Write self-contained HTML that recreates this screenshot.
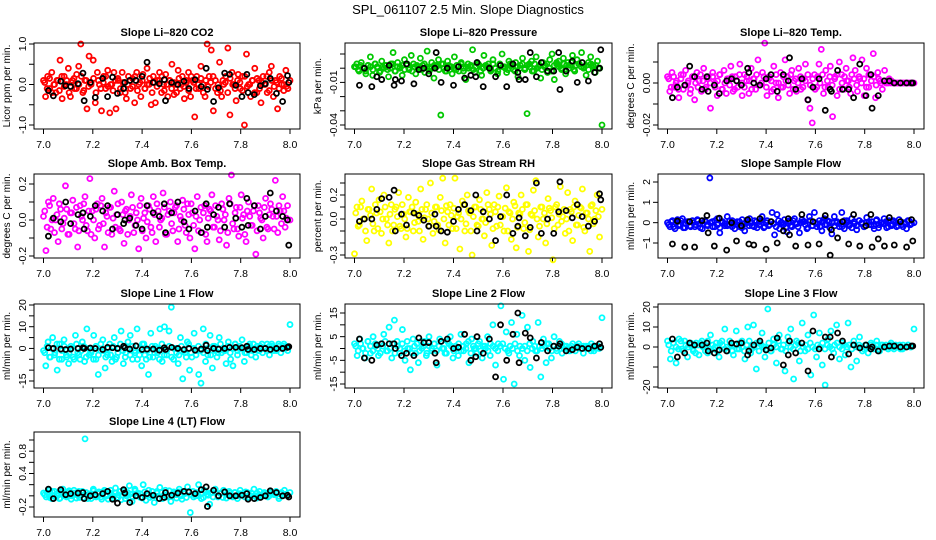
<!DOCTYPE html>
<html><head><meta charset="utf-8">
<style>
html,body{margin:0;padding:0;background:#fff;}
svg{display:block;font-family:"Liberation Sans",sans-serif;}
</style></head>
<body>
<svg id="chart" width="936" height="540" viewBox="0 0 936 540">
<rect width="936" height="540" fill="#fff"/>
<text x="468" y="14" text-anchor="middle" font-size="13">SPL_061107  2.5 Min. Slope Diagnostics</text>
</svg>
<script>
// ---- shared data ----
const xTicks = [7.0, 7.2, 7.4, 7.6, 7.8, 8.0];
const xTickLabels = ["7.0", "7.2", "7.4", "7.6", "7.8", "8.0"];
const blackX = [7.02,7.04,7.07,7.09,7.11,7.14,7.16,7.165,7.19,7.21,7.24,7.26,7.28,7.30,7.325,7.33,7.35,7.375,7.40,7.42,7.445,7.47,7.49,7.495,7.52,7.545,7.57,7.59,7.615,7.64,7.66,7.665,7.69,7.71,7.735,7.755,7.78,7.805,7.825,7.83,7.855,7.88,7.90,7.92,7.945,7.97,7.99,7.995];

// ---- panel 1: CO2 ----
const co2Values = [0.1,-0.3,0.2,-0.1,0.3,0.0,-0.2,0.1,0.6,-0.35,0.2,0.0,0.4,-0.3,0.1,-0.1,0.25,0.45,1.0,-0.2,0.1,-0.6,0.7,0.05,0.6,-0.45,0.3,0.0,-0.65,0.2,-0.1,0.35,-0.7,0.0,0.3,-0.6,0.1,-0.2,0.3,0.05,-0.35,0.2,-0.1,0.15,-0.45,0.3,0.0,-0.3,0.25,-0.1,0.4,0.0,-0.5,0.2,-0.45,0.1,0.3,-0.2,0.0,0.25,-0.3,0.1,0.5,-0.25,0.0,0.35,-0.1,0.2,-0.35,0.05,0.3,-0.3,0.1,-0.8,0.2,-0.1,0.45,0.0,-0.3,1.0,0.2,0.85,-0.65,0.1,-0.2,0.55,-0.3,0.0,0.2,0.9,-0.75,0.3,0.0,-0.4,0.25,-0.1,0.2,-1.0,0.75,0.0,-0.3,0.1,0.4,-0.2,0.1,-0.45,0.2,0.0,-0.2,0.3,0.45,-0.3,0.1,-0.6,0.2,0.0,-0.15,0.35,-0.1,0.1];
const co2Band = [0.05,-0.1,0.15,-0.2,0.0,0.1,-0.15,0.2,-0.05,0.1,-0.2,0.05,0.15,-0.1,0.0,0.2,-0.15,0.1,-0.05,0.0,0.15,-0.2,0.1,-0.1,0.05,0.2,-0.05,0.0,-0.15,0.1,0.15,-0.1,0.05,-0.2,0.0,0.1,-0.05,0.2,-0.15,0.05,0.1,-0.1,0.0,0.15,-0.2,0.05,-0.05,0.1,0.2,-0.15,0.0,0.1,-0.1,0.05,-0.2,0.15,0.0,-0.05,0.1,-0.15,0.2,0.05,-0.1,0.0,0.15,-0.2,0.1,-0.05,0.05,0.2,-0.1,0.0,-0.15,0.1,0.05,-0.2,0.15,0.0,-0.1,0.1,0.05,-0.15,0.2,-0.05,0.0,0.1,-0.2,0.15,-0.1,0.05,0.0,0.2,-0.15,0.1,-0.05,0.05,-0.1,0.15,0.0,-0.05];
const co2Black = [-0.15,-0.28,0.08,-0.03,-0.05,0.02,0.28,-0.4,0.05,-0.32,0.15,-0.3,0.18,-0.22,-0.1,0.05,0.1,0.1,0.2,0.55,0.05,0.02,0.12,-0.4,0.05,0.0,0.08,-0.1,0.12,-0.05,0.4,-0.12,-0.42,-0.08,0.28,0.25,-0.02,-0.3,0.25,-0.2,-0.25,-0.03,0.02,0.15,-0.22,-0.42,0.22,0.05];
const co2Ticks = [-1,-0.5,0,0.5,1];
const co2Labels = ["-1.0","","0.0","","1.0"];

// ---- panel 2: pressure ----
const presValues = [0.001,0.003,-0.002,0.004,0.0,-0.004,0.002,0.008,-0.005,0.003,0.001,-0.003,0.005,0.0,0.002,-0.006,0.003,0.011,-0.002,0.004,0.001,-0.005,0.006,0.002,-0.001,0.009,0.003,-0.004,0.001,0.007,0.002,-0.003,0.012,0.0,0.004,-0.007,0.002,0.006,-0.033,0.003,-0.002,0.005,0.001,-0.004,0.008,0.002,-0.002,0.004,0.0,-0.008,0.003,0.001,0.013,-0.003,0.004,0.002,-0.005,0.009,0.001,0.003,-0.002,0.006,0.0,-0.004,0.003,0.010,0.001,-0.003,0.005,0.002,-0.001,0.004,-0.006,0.002,0.007,0.0,-0.032,0.003,0.005,-0.002,0.008,0.001,-0.007,0.004,0.002,-0.003,0.006,0.010,-0.008,0.003,0.005,0.0,0.007,-0.004,0.004,0.002,0.009,-0.002,0.006,0.003,0.011,0.001,-0.005,0.004,0.008,0.002,-0.003,0.005,0.0,-0.040];
const presBand = [0.001,-0.001,0.002,0.0,-0.002,0.002,0.001,-0.001,0.003,0.0,-0.002,0.001,0.002,-0.001,0.0,0.003,-0.002,0.001,0.0,0.002,-0.001,0.003,0.0,-0.002,0.001,0.002,0.0,-0.001,0.003,0.001,-0.002,0.0,0.002,0.001,-0.001,0.003,0.0,-0.002,0.002,0.001,0.0,-0.001,0.002,0.003,-0.002,0.001,0.0,0.002,-0.001,0.001,0.003,-0.002,0.0,0.002,0.001,-0.001,0.003,0.0,-0.002,0.002,0.001,0.0,-0.001,0.003,0.002,-0.002,0.001,0.0,0.003,-0.001,0.002,0.001,-0.002,0.003,0.0,0.002,-0.001,0.001,0.003,0.0,-0.002,0.002,0.004,0.001,-0.001,0.003,0.002,0.0,0.004,-0.001,0.002,0.003,0.001,0.0,0.002,-0.001,0.003,0.001,0.002,0.0];
const presBlack = [-0.012,0.000,-0.013,-0.006,-0.008,0.002,-0.012,-0.008,-0.009,0.003,-0.011,-0.001,0.0,-0.004,0.0,0.011,-0.010,0.000,-0.012,0.001,-0.007,-0.005,-0.006,0.004,-0.013,0.000,-0.006,0.002,-0.013,0.003,-0.003,-0.008,-0.008,0.011,-0.006,0.004,-0.002,-0.002,0.011,-0.015,-0.002,0.005,-0.01,0.004,-0.009,-0.003,0.0,0.013];
const presTicks = [0.01,0,-0.01,-0.02,-0.03,-0.04];
const presLabels = ["","","-0.01","","","-0.04"];

// ---- panel 3: Li-820 temp ----
const tempValues = [0.003,-0.004,0.005,-0.002,0.001,-0.007,0.004,-0.003,0.006,0.0,-0.005,0.003,-0.008,0.005,0.001,-0.004,0.007,-0.002,0.003,-0.012,0.005,0.0,-0.006,0.004,-0.003,0.006,-0.005,0.002,0.008,-0.004,0.003,-0.002,0.009,-0.006,0.004,0.001,-0.005,0.007,0.002,-0.003,0.011,-0.001,0.005,0.019,-0.006,0.003,-0.004,0.008,0.0,-0.007,0.005,-0.002,0.011,0.003,-0.005,0.006,0.001,-0.004,0.007,-0.003,0.002,0.009,-0.008,-0.012,-0.019,0.004,-0.002,0.009,0.016,-0.005,0.006,-0.002,0.008,-0.016,0.003,-0.006,0.01,0.004,-0.003,0.007,0.001,-0.005,0.012,0.006,-0.004,0.002,0.011,-0.006,0.007,-0.002,0.004,0.014,-0.007,0.005,0.001,-0.003,0.006,0.0,0.002,0.001,0.0,0.0,0.0,0.0,0.0,0.0,0.0,0.0,0.0,0.0];
const tempBand = [0.002,-0.002,0.003,0.0,-0.003,0.002,0.004,-0.001,0.001,-0.003,0.003,0.0,-0.002,0.004,0.001,-0.003,0.002,0.0,0.003,-0.002,0.001,0.004,-0.003,0.0,0.002,-0.001,0.003,-0.003,0.001,0.004,0.0,-0.002,0.003,0.001,-0.003,0.002,0.004,-0.001,0.0,0.003,-0.002,0.002,0.001,-0.003,0.004,0.0,-0.002,0.003,0.001,-0.001,0.004,-0.003,0.002,0.0,0.003,-0.002,0.001,0.004,-0.001,0.002,-0.003,0.003,0.0,0.004,-0.002,0.001,0.003,-0.001,0.002,0.004,-0.003,0.0,0.003,0.001,-0.002,0.004,0.002,-0.001,0.003,0.0,0.002,-0.002,0.004,0.001,0.003,-0.001,0.002,0.0,0.001,0.0,0.0,0.0,0.0,0.0,0.0,0.0,0.0,0.0,0.0,0.0];
const tempBlack = [-0.007,-0.002,-0.001,0.008,0.003,-0.003,0.003,-0.004,-0.001,-0.005,0.001,0.002,0.001,-0.001,0.007,0.005,0.0,-0.001,0.002,0.004,-0.004,0.004,0.001,0.012,-0.003,0.002,-0.008,-0.002,0.002,-0.013,-0.003,-0.004,0.006,-0.003,-0.003,-0.007,0.009,-0.006,0.004,-0.012,-0.006,0.001,0.001,0.0,0.0,0.0,0.0,0.0];
const tempTicks = [0.01,0,-0.01,-0.02];
const tempLabels = ["","0.00","","-0.02"];

// ---- panel 4: amb box temp ----
const ambValues = [0.02,-0.17,0.1,-0.05,0.12,0.0,-0.12,0.06,-0.02,0.19,-0.08,0.04,0.11,-0.05,-0.15,0.08,0.0,0.13,-0.06,0.23,0.05,-0.1,0.09,-0.03,0.12,-0.15,0.02,0.07,-0.08,0.16,0.03,-0.05,0.1,-0.13,0.06,0.0,0.14,-0.07,0.04,-0.16,0.12,0.01,-0.1,0.08,-0.04,0.13,-0.12,0.05,0.0,0.15,-0.08,0.03,0.1,-0.06,0.07,-0.12,0.02,0.11,-0.03,0.09,-0.1,0.04,-0.16,0.13,0.0,-0.07,0.08,-0.12,0.06,0.14,-0.04,0.02,-0.11,0.09,0.0,-0.14,0.12,0.25,-0.05,0.07,-0.09,0.14,0.03,-0.12,0.1,-0.03,0.05,-0.19,0.08,0.01,-0.1,0.12,-0.05,0.09,0.02,0.22,-0.07,0.05,0.13,-0.04,0.08,0.0];
const ambBand = [0.05,-0.04,0.08,0.0,-0.07,0.03,0.09,-0.05,0.01,0.06,-0.08,0.04,-0.02,0.07,-0.06,0.02,0.09,-0.03,0.05,-0.08,0.0,0.06,-0.05,0.08,-0.02,0.04,-0.07,0.07,0.01,-0.04,0.09,-0.06,0.03,0.05,-0.08,0.02,0.07,-0.03,0.0,0.08,-0.06,0.04,-0.01,0.06,-0.07,0.03,0.09,-0.04,0.01,0.07,-0.08,0.05,-0.02,0.04,0.08,-0.05,0.0,0.06,-0.07,0.03,0.09,-0.03,0.02,-0.06,0.07,0.04,-0.08,0.01,0.05,-0.04,0.08,0.0,-0.06,0.06,0.03,-0.07,0.09,-0.02,0.04,-0.05,0.07,0.01,-0.08,0.05,0.02,-0.03,0.08,-0.06,0.04,0.0,0.07,-0.04,0.03,0.06,-0.05,0.02,0.08,-0.02,0.05,0.01];
const ambBlack = [-0.09,0.01,-0.01,0.1,-0.02,0.03,0.04,-0.05,0.02,0.08,0.05,0.08,-0.05,0.03,-0.02,0.0,0.01,-0.03,-0.05,0.08,0.04,0.02,0.09,-0.07,0.04,0.1,-0.01,-0.05,0.05,-0.07,0.09,-0.04,0.03,0.07,-0.04,0.09,0.01,-0.04,0.12,-0.03,0.08,-0.05,0.02,0.15,0.05,0.02,0.0,-0.14];
const ambTicks = [0.2,0.1,0,-0.1,-0.2];
const ambLabels = ["0.2","","0.0","","-0.2"];

// ---- panel 5: gas stream RH ----
const rhValues = [-0.29,0.1,-0.05,0.15,0.0,-0.18,0.08,0.25,-0.1,0.05,0.16,-0.12,0.2,0.0,-0.2,0.12,-0.05,0.1,0.22,-0.08,0.04,-0.15,0.18,0.06,-0.1,0.14,-0.02,0.25,-0.17,0.08,0.0,0.3,-0.12,0.1,-0.05,0.18,0.34,-0.2,0.06,0.12,-0.08,0.34,0.02,-0.25,0.15,-0.1,0.2,0.05,-0.3,0.1,-0.05,0.16,0.0,-0.14,0.22,0.08,-0.22,0.12,-0.06,0.19,0.02,-0.1,0.26,0.06,-0.17,0.14,-0.24,0.05,0.2,-0.08,0.12,-0.27,0.04,0.24,0.32,-0.15,0.1,0.0,-0.2,0.17,0.07,-0.34,0.1,-0.05,0.27,0.02,-0.12,0.22,0.08,-0.18,0.15,-0.05,0.1,0.25,-0.1,0.05,-0.27,0.12,0.0,0.2,-0.15,0.08];
const rhBand = [0.05,-0.06,0.1,0.0,-0.1,0.08,0.03,-0.04,0.12,-0.08,0.06,0.0,0.1,-0.05,0.04,-0.1,0.08,0.02,-0.06,0.12,0.0,-0.08,0.06,0.1,-0.03,0.04,-0.1,0.08,0.01,0.12,-0.06,0.05,-0.02,0.1,-0.09,0.07,0.0,0.11,-0.05,0.03,0.09,-0.08,0.05,0.0,0.12,-0.04,0.07,-0.1,0.02,0.1,-0.06,0.08,0.0,-0.03,0.12,0.04,-0.08,0.06,0.1,-0.05,0.02,0.09,-0.1,0.05,0.0,0.11,-0.07,0.04,0.08,-0.03,0.12,-0.09,0.03,0.07,0.0,-0.06,0.1,0.05,-0.04,0.09,0.01,-0.08,0.12,0.04,-0.02,0.08,0.0,-0.1,0.06,0.1,-0.05,0.03,0.09,-0.07,0.05,0.0,0.11,-0.04,0.07,0.02];
const rhBlack = [-0.02,0.0,0.0,0.08,0.17,0.18,0.24,-0.1,0.04,-0.05,0.05,0.03,-0.01,-0.06,0.04,-0.06,-0.1,-0.11,-0.02,0.08,0.12,0.07,0.2,-0.1,0.06,0.0,-0.18,0.02,0.2,-0.12,-0.06,0.01,-0.14,-0.07,0.3,-0.12,0.0,-0.12,0.06,0.31,0.07,0.01,0.12,0.02,-0.06,-0.02,0.21,0.16];
const rhTicks = [0.3,0.2,0.1,0,-0.1,-0.2,-0.3];
const rhLabels = ["","0.2","","0.0","","","-0.3"];

// ---- panel 6: sample flow ----
const sampleValues = [0.0,-0.2,0.1,-0.3,0.15,-0.1,0.2,-0.25,0.05,-0.15,0.1,-0.2,0.15,-0.05,-0.3,0.1,-0.1,2.2,0.05,-0.2,0.2,-0.5,0.0,-0.15,0.3,-0.1,0.1,-0.3,0.05,-0.2,0.15,-0.4,0.0,0.2,-0.15,0.1,-0.25,0.05,0.3,-0.2,0.1,-0.1,0.5,-0.6,0.4,-0.3,0.0,0.15,-0.45,0.1,-0.2,0.2,-0.05,-0.5,0.15,0.05,-0.3,0.3,-0.15,0.5,-0.2,0.1,-0.4,0.2,-0.1,0.05,-0.55,0.3,0.0,-0.2,0.5,-0.3,0.1,-0.15,0.2,-0.05,-0.35,0.1,0.0,-0.2,0.25,-0.1,0.05,-0.3,0.15,-0.1,0.0,0.2,-0.25,0.1,-0.15,0.05,-0.2,0.15,-0.1,0.0,-0.3,0.1,-0.05,0.0];
const sampleBand = [-0.1,0.05,-0.2,0.0,-0.15,0.1,-0.25,-0.05,0.05,-0.2,0.0,-0.1,0.1,-0.25,-0.05,0.05,-0.15,0.0,-0.2,0.1,-0.1,-0.25,0.05,-0.05,-0.15,0.1,-0.2,0.0,-0.1,0.05,-0.25,-0.05,0.1,-0.15,0.0,-0.2,0.05,-0.1,0.1,-0.25,0.0,-0.15,0.05,-0.05,-0.2,0.1,0.0,-0.1,-0.25,0.05,-0.15,0.1,-0.05,-0.2,0.0,0.05,-0.1,-0.25,0.1,-0.15,0.0,-0.05,-0.2,0.05,-0.1,0.1,-0.25,0.0,-0.15,0.05,-0.05,-0.2,0.1,0.0,-0.1,-0.25,0.05,-0.15,0.1,-0.05,-0.2,0.0,0.05,-0.1,-0.15,0.1,-0.25,0.0,-0.05,0.05,-0.2,-0.1,0.1,0.0,-0.15,0.05,-0.2,-0.05,0.1,-0.1];
const sampleBlack = [-1.05,0.08,-1.2,0.05,-1.2,0.1,0.35,-0.5,-1.15,0.22,-1.35,0.0,-0.9,-0.15,0.15,-1.05,-1.1,0.2,-1.3,0.05,-1.0,-0.4,0.2,-0.6,-1.15,0.4,-1.1,0.05,-1.05,0.35,-1.6,-0.35,-0.75,0.05,-1.05,0.4,-1.15,-0.15,0.4,-1.2,-0.8,-1.15,0.25,-1.1,0.05,-1.2,0.15,-0.9];
const sampleTicks = [2,1,0,-1];
const sampleLabels = ["2","1","0","\u22121"];

// ---- panel 7: line 1 flow ----
const line1Values = [-1,-8,3,-4,5,-2,-10,2,-5,4,-3,-7,1,-4,6,-2,-5,3,-6,9,-3,-1,6,-5,-12,-1,4,-9,-3,2,-6,5,-4,0,8,-7,-2,3,6,-5,-1,9,-3,-8,2,-5,-12,7,-4,1,-2,9,-6,10,-3,8,19,-5,0,-7,5,-14,-2,3,-10,-4,7,-1,-12,-16,9,-6,-3,6,-9,1,-4,5,-2,-1,-7,3,-5,-8,2,-3,0,4,-6,-2,1,-3,2,-4,-1,1,-2,0,2,-3,1,-1,0,2,-2,1,0,-1,11];
const line1Band = [-2,1,-4,0,-3,2,-5,-1,1,-4,-2,0,-5,2,-3,-1,1,-4,0,-2,-5,1,-3,2,-1,-4,0,-3,1,-5,-2,2,-1,-4,0,-3,1,-2,-5,0,2,-3,-1,-4,1,-2,0,-5,2,-3,-1,1,-4,0,-2,-3,1,-1,-4,2,-2,0,-3,1,-1,-2,2,0,-3,1,-1,-2,2,0,-1,1,-2,0,2,-1,1,0,-2,1,2,-1,0,1,-1,2,0,-1,1,2,0,-1,1,0,2,1];
const line1Black = [0.3,0.0,-0.3,-0.5,-0.3,0.0,0.3,0.0,0.2,0.0,-0.5,0.5,0.3,0.0,1.0,0.3,-0.3,1.2,-0.5,-0.3,-0.3,-0.8,0.3,-0.5,0.5,0.0,-0.5,0.0,-0.8,-0.3,1.5,-1.0,0.0,-0.3,0.0,0.5,0.5,0.3,1.0,-0.5,-0.5,0.0,0.0,-0.5,0.0,0.0,0.5,0.8];
const line1Ticks = [20,15,10,5,0,-5,-10,-15];
const line1Labels = ["20","","10","","0","","","-15"];

// ---- panel 8: line 2 flow ----
const line2Values = [2,-3,4,0,-4,3,-2,5,1,-3,2,6,-1,9,-4,12,3,-2,8,-5,0,-9,4,-2,-6,3,1,-3,5,-1,2,-7,4,0,-2,3,5,-4,1,-3,6,-1,2,-6,4,0,-2,3,-4,1,5,-3,10,-7,2,18,-13,7,-2,11,-15,6,-3,14,-5,9,-8,3,-1,11,-12,4,-6,2,-4,5,-1,3,-2,1,0,-1,2,-1,1,0,-2,1,0,2,-1,1,0,13];
const line2Band = [1,-1,2,0,-2,3,1,-1,2,0,-2,1,3,-1,0,2,-2,1,0,2,-1,3,0,-2,1,2,-1,0,3,-2,1,0,2,-1,1,3,0,-2,2,1,-1,0,2,-1,1,0,3,-2,1,0,2,-1,1,0,-1,2,1,0,-1,1,2,0,-1,1,0,2,-1,1,0,1,-1,2,0,1,-1,1,0,1,2,0,-1,1,0,1,2,0,1,-1,1,0,1,2,0,1,0,1,-1,1,0,1];
const line2Black = [4,-4,-5,1.5,2,2,2,0,-3,-2,-3,4.5,2.5,2.5,-2,-6,3,4,0,0.5,6,-5,-3.5,5,-2,4,-12,10,-5,6,15,-6,6.5,4.5,-4,2.5,-1,1,1,2,-1,-0.5,0.5,0,0,1,2,0.5];
const line2Ticks = [15,10,5,0,-5,-10,-15];
const line2Labels = ["15","","5","","-5","","-15"];

// ---- panel 9: line 3 flow ----
const line3Values = [3,-6,2,-8,4,-1,3,-5,1,-2,2,-4,3,0,-3,6,-1,2,-5,3,9,-2,1,-4,8,-1,3,-6,10,-3,11,-11,2,7,-5,19,-2,4,-8,6,-1,-12,5,9,-16,3,-7,12,-2,6,-14,16,-5,7,-9,-19,4,8,-3,11,-6,2,-4,12,-10,3,-7,5,-2,1,-3,2,-1,3,-2,1,0,-1,2,-1,0,1,-1,0,1,0,9];
const line3Band = [1,-2,2,0,-1,3,-2,1,0,2,-1,-3,1,2,0,-2,3,-1,1,0,-2,2,1,-1,0,3,-2,1,-1,2,0,-2,1,3,-1,0,2,-2,1,0,-1,2,-2,1,0,3,-1,1,-2,2,0,-1,1,2,-2,0,1,-1,2,0,-1,1,0,2,-1,1,0,-1,1,2,0,-1,1,0,1,-1,1,0,1,0,-1,1,0,1,0,1,-1,1,0,1,0,1,0,1,0,-1,1,0,1,0];
const line3Black = [4,-5,-3,2,1,1,2,-2,-3,-1.5,-2,2,1.5,2,-4,-2,1,3,-1.5,-0.5,4.5,-9,-4,3,-3,2,-12,8,-1,5,5,-5,7,3,-3.5,1,-0.5,1,-1,0,-2,0,0.5,0.5,0,0,0.5,0.5];
const line3Ticks = [20,10,0,-10,-20];
const line3Labels = ["20","10","0","","-20"];

// ---- panel 10: line 4 (LT) flow ----
const line4Values = [0.05,-0.02,0.1,-0.05,0.08,0.0,-0.04,0.12,-0.01,0.06,-0.06,0.1,0.02,-0.03,0.08,1.02,-0.05,0.04,0.12,-0.02,0.07,-0.06,0.1,0.0,0.05,-0.04,0.14,0.02,-0.07,0.09,0.0,0.18,-0.1,0.12,0.05,-0.03,0.2,-0.08,0.1,0.0,-0.12,0.08,0.15,-0.05,0.1,0.0,-0.1,0.07,0.02,0.12,-0.06,0.04,0.16,-0.3,0.08,0.0,0.2,-0.05,0.1,0.03,-0.15,0.06,0.12,-0.02,0.05,0.1,-0.04,0.08,0.0,0.06,-0.05,0.1,0.02,0.07,-0.03,0.05,0.12,-0.04,0.08,0.0,0.05,-0.02,0.06,0.03,0.08,-0.05,0.04,0.1,0.0,0.06];
const line4Band = [0.02,0.06,-0.03,0.08,0.0,0.04,-0.05,0.07,0.02,-0.02,0.09,0.0,0.05,-0.04,0.08,0.01,-0.03,0.06,0.03,-0.05,0.09,0.0,0.04,-0.02,0.07,0.02,-0.06,0.1,0.0,0.05,-0.03,0.08,0.01,-0.05,0.06,0.03,-0.02,0.09,0.0,0.04,-0.04,0.07,0.02,-0.03,0.08,0.0,0.05,-0.05,0.06,0.02,-0.02,0.09,0.01,0.04,-0.04,0.07,0.0,0.05,-0.03,0.08,0.02,-0.02,0.06,0.0,0.04,-0.03,0.07,0.01,0.05,-0.02,0.06,0.0,0.04,-0.03,0.07,0.02,0.05,-0.02,0.06,0.0,0.04,0.02,-0.02,0.06,0.01,0.04,0.0,0.05,0.02,-0.01,0.06,0.03,0.0,0.05,0.02,0.04,-0.01,0.06,0.02,0.03];
const line4Black = [0.12,-0.05,0.11,0.02,0.04,0.05,0.06,-0.05,0.0,0.02,0.04,0.08,-0.06,-0.13,0.11,0.05,-0.12,0.0,-0.03,0.04,0.01,-0.05,-0.03,0.06,0.01,0.05,0.08,0.07,0.04,0.11,0.16,-0.19,0.1,0.0,0.07,0.0,0.0,0.01,0.04,-0.06,-0.05,-0.03,0.0,0.09,0.06,0.0,0.01,-0.02];
const line4Ticks = [1.0,0.8,0.6,0.4,0.2,0.0,-0.2];
const line4Labels = ["","0.8","","0.4","","","-0.2"];

// ---- layout (pixel geometry, not data) ----
const panels = [
 {name:"co2",title:"Slope Li\u2013820 CO2",ylab:"Licor ppm per min.",color:"#ff0000",box:[34,43,300,129],ref:[1,44,-1,125],vals:co2Values,band:co2Band,blk:co2Black,ticks:co2Ticks,labels:co2Labels},
 {name:"pressure",title:"Slope Li\u2013820 Pressure",ylab:"kPa per min.",color:"#00c800",box:[345,43,612,129],ref:[0.01,54,-0.04,125],vals:presValues,band:presBand,blk:presBlack,ticks:presTicks,labels:presLabels},
 {name:"li820-temp",title:"Slope Li\u2013820 Temp.",ylab:"degrees C per min.",color:"#ff00ff",box:[658,43,924,129],ref:[0,83,-0.02,125],vals:tempValues,band:tempBand,blk:tempBlack,ticks:tempTicks,labels:tempLabels},
 {name:"amb-box-temp",title:"Slope Amb. Box Temp.",ylab:"degrees C per min.",color:"#ff00ff",box:[34,174,300,258],ref:[0.2,184,-0.2,256],vals:ambValues,band:ambBand,blk:ambBlack,ticks:ambTicks,labels:ambLabels},
 {name:"gas-stream-rh",title:"Slope Gas Stream RH",ylab:"percent per min.",color:"#ffff00",box:[345,174,612,258],ref:[0.3,183,-0.3,255],vals:rhValues,band:rhBand,blk:rhBlack,ticks:rhTicks,labels:rhLabels},
 {name:"sample-flow",title:"Slope Sample Flow",ylab:"ml/min per min.",color:"#0000ff",box:[658,174,924,258],ref:[2,182,-1,243],vals:sampleValues,band:sampleBand,blk:sampleBlack,ticks:sampleTicks,labels:sampleLabels},
 {name:"line1-flow",title:"Slope Line 1 Flow",ylab:"ml/min per min.",color:"#00ffff",box:[34,304,300,388],ref:[20,305,-15,381],vals:line1Values,band:line1Band,blk:line1Black,ticks:line1Ticks,labels:line1Labels},
 {name:"line2-flow",title:"Slope Line 2 Flow",ylab:"ml/min per min.",color:"#00ffff",box:[345,304,612,388],ref:[15,313,-15,384],vals:line2Values,band:line2Band,blk:line2Black,ticks:line2Ticks,labels:line2Labels},
 {name:"line3-flow",title:"Slope Line 3 Flow",ylab:"ml/min per min.",color:"#00ffff",box:[658,304,924,388],ref:[20,307,-20,387],vals:line3Values,band:line3Band,blk:line3Black,ticks:line3Ticks,labels:line3Labels},
 {name:"line4-flow",title:"Slope Line 4 (LT) Flow",ylab:"ml/min per min.",color:"#00ffff",box:[34,432,300,517],ref:[1.0,440,-0.2,507],vals:line4Values,band:line4Band,blk:line4Black,ticks:line4Ticks,labels:line4Labels}
];

const NS = "http://www.w3.org/2000/svg";
const svg = document.getElementById("chart");
function mk(tag, attrs, parent){
  const e = document.createElementNS(NS, tag);
  for (const k in attrs) e.setAttribute(k, attrs[k]);
  parent.appendChild(e);
  return e;
}

panels.forEach(p => {
  const [L,T,R,B] = p.box;
  const g = mk("g", {}, svg);
  
  
  const xs = v => (L + 9.5) + (v - 7.0) * ((R - 10) - (L + 9.5));
  const ys = v => p.ref[1] + (v - p.ref[0]) * (p.ref[3] - p.ref[1]) / (p.ref[2] - p.ref[0]);

  const t = mk("text", {x:(L+R)/2, y:T-7, "text-anchor":"middle", "font-size":"11", "font-weight":"bold"}, g);
  t.textContent = p.title;
  
  

  const ax = mk("g", {stroke:"#000","stroke-width":"1"}, g);
  
  
  mk("line", {x1:xs(xTicks[0]), x2:xs(xTicks[xTicks.length-1]), y1:B, y2:B}, ax);
  xTicks.forEach((v,i) => {
    mk("line", {x1:xs(v), x2:xs(v), y1:B, y2:B+5}, ax);
    const lt = mk("text", {x:xs(v), y:B+19, "text-anchor":"middle", "font-size":"10.5", stroke:"none", fill:"#000"}, ax);
    lt.textContent = xTickLabels[i];
    
    
  });

  const ay = mk("g", {stroke:"#000","stroke-width":"1"}, g);
  
  
  const tmin = Math.min(...p.ticks), tmax = Math.max(...p.ticks);
  mk("line", {x1:L, x2:L, y1:ys(tmax), y2:ys(tmin)}, ay);
  p.ticks.forEach((v,i) => {
    mk("line", {x1:L-5, x2:L, y1:ys(v), y2:ys(v)}, ay);
    if (p.labels[i]) {
      const lt = mk("text", {x:0, y:0, transform:`translate(${L-8},${ys(v)}) rotate(-90)`, "text-anchor":"middle", "font-size":"10.5", stroke:"none", fill:"#000"}, ay);
      lt.textContent = p.labels[i];
      
      
    }
  });
  const yt = mk("text", {x:0, y:0, transform:`translate(${L-24},${(T+B)/2}) rotate(-90)`, "text-anchor":"middle", "font-size":"10"}, g);
  yt.textContent = p.ylab;
  
  

  const pts = mk("g", {fill:"none", stroke:p.color, "stroke-width":"1.8"}, g);
  
  
  const nb = p.band.length;
  p.band.forEach((v,i) => {
    const c = mk("circle", {cx:xs(7.0 + (i+0.5)/(nb+1)), cy:ys(v), r:2.5}, pts);
    
    
  });
  const n = p.vals.length;
  p.vals.forEach((v,i) => {
    const c = mk("circle", {cx:xs(7.0 + i/(n-1)), cy:ys(v), r:2.5}, pts);
    
    
  });
  const bpts = mk("g", {fill:"none", stroke:"#000", "stroke-width":"1.8"}, g);
  
  
  p.blk.forEach((v,i) => {
    const c = mk("circle", {cx:xs(blackX[i]), cy:ys(v), r:2.5}, bpts);
    
    
  });

  const box = mk("rect", {x:L, y:T, width:R-L, height:B-T, fill:"none", stroke:"#000", "stroke-width":"1"}, g);
  
  
});
</script>
</body></html>
